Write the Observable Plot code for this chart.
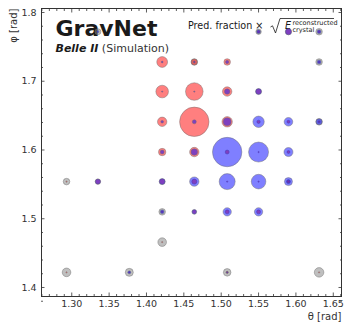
<!DOCTYPE html>
<html>
<head>
<meta charset="utf-8">
<script src="https://cdn.jsdelivr.net/npm/d3@7"></script>
<script src="https://cdn.jsdelivr.net/npm/@observablehq/plot@0.6"></script>
<style>
  html, body { margin: 0; padding: 0; background: #fff; }
  #chart svg { display: block; }
</style>
</head>
<body>
<div id="chart"></div>
<script>
// Crystal centres in the calorimeter (polar angle θ, azimuth φ, in rad)
const theta = [
  1.335, 1.550, 1.590, 1.631,
  1.421, 1.464, 1.508, 1.631,
  1.421, 1.464, 1.508, 1.550,
  1.421, 1.464, 1.508, 1.550, 1.590, 1.631,
  1.421, 1.464, 1.508, 1.550, 1.590,
  1.293, 1.335, 1.421, 1.464, 1.508, 1.550, 1.590,
  1.421, 1.464, 1.508, 1.550,
  1.421,
  1.293, 1.377, 1.508, 1.631
];
const phi = [
  1.772, 1.772, 1.772, 1.772,
  1.728, 1.728, 1.728, 1.728,
  1.685, 1.685, 1.685, 1.685,
  1.641, 1.641, 1.641, 1.641, 1.641, 1.641,
  1.597, 1.597, 1.597, 1.597, 1.597,
  1.554, 1.554, 1.554, 1.554, 1.554, 1.554, 1.554,
  1.510, 1.510, 1.510, 1.510,
  1.466,
  1.422, 1.422, 1.422, 1.422
];
// Predicted fraction × √E per crystal for each class
const cluster1 = [ // red shower
  0, 0.008, 0.040, 0.006,
  0.135, 0.042, 0.050, 0.004,
  0.184, 0.358, 0.102, 0.035,
  0.102, 1.000, 0.125, 0.013, 0.010, 0.005,
  0.063, 0.102, 0.0185, 0.002, 0.010,
  0.002, 0.030, 0.035, 0.029, 0.002, 0.002, 0.010,
  0.005, 0.020, 0.0185, 0.0185,
  0.002,
  0.002, 0.003, 0.006, 0.002
];
const cluster2 = [ // blue shower
  0.006, 0.018, 0.045, 0.020,
  0.004, 0.004, 0.013, 0.020,
  0.002, 0.002, 0.034, 0.042,
  0.008, 0.0185, 0.074, 0.150, 0.086, 0.042,
  0.0185, 0.050, 1.000, 0.463, 0.094,
  0, 0.034, 0.042, 0.102, 0.296, 0.247, 0.074,
  0.0185, 0.026, 0.080, 0.080,
  0,
  0, 0.0104, 0.004, 0
];
const background = [ // grey: beam background / noise
  0.042, 0.034, 0, 0.050,
  0, 0.050, 0, 0.050,
  0, 0, 0, 0,
  0, 0, 0, 0, 0, 0.050,
  0, 0, 0, 0, 0,
  0.050, 0, 0, 0, 0, 0, 0.0185,
  0.050, 0, 0, 0,
  0.086,
  0.086, 0.074, 0.066, 0.105
];

const xTicks = [1.30, 1.35, 1.40, 1.45, 1.50, 1.55, 1.60, 1.65];
const yTicks = [1.4, 1.5, 1.6, 1.7, 1.8];
const xMinor = d3.range(126, 167).map(v => v / 100);
const yMinor = d3.range(69, 91).map(v => v / 50);

const cells = theta.map((t, i) => ({
  theta: t, phi: phi[i],
  cluster1: cluster1[i], cluster2: cluster2[i], background: background[i]
}));

const font = "DejaVu Sans, sans-serif";
const ink = "#333";
const edge = {stroke: "#6e6e6e", strokeOpacity: 0.75, strokeWidth: 0.6};

// inward ticks on all four sides of the frame
function innerTicks(values, size) {
  const common = {tickSize: size, fill: "none", stroke: ink, strokeWidth: 0.8, label: null};
  return [
    Plot.axisX(values, {...common, anchor: "bottom", dy: -size}),
    Plot.axisX(values, {...common, anchor: "top", dy: size}),
  ];
}
function innerTicksY(values, size) {
  const common = {tickSize: size, fill: "none", stroke: ink, strokeWidth: 0.8, label: null};
  return [
    Plot.axisY(values, {...common, anchor: "left", dx: size}),
    Plot.axisY(values, {...common, anchor: "right", dx: -size}),
  ];
}
const notMajor = (vals, majors) => vals.filter(v => !majors.some(t => Math.abs(t - v) < 1e-9));

const chart = Plot.plot({
  width: 346,
  height: 323,
  marginLeft: 41,
  marginRight: 5,
  marginTop: 8,
  marginBottom: 27,
  style: {fontFamily: font, background: "#fff", color: ink},
  x: {domain: [1.2595, 1.661]},
  y: {domain: [1.3869, 1.8058]},
  r: {type: "sqrt", domain: [0, 1], range: [0, 14.7]},
  marks: [
    Plot.dot(cells.filter(d => d.background > 0), {x: "theta", y: "phi", r: "background", fill: "#808080", fillOpacity: 0.5, ...edge}),
    Plot.dot(cells.filter(d => d.cluster1 > 0), {x: "theta", y: "phi", r: "cluster1", fill: "#ff0000", fillOpacity: 0.5, ...edge}),
    Plot.dot(cells.filter(d => d.cluster2 > 0), {x: "theta", y: "phi", r: "cluster2", fill: "#0000ff", fillOpacity: 0.5, ...edge}),
    Plot.frame({stroke: ink, strokeWidth: 1}),
    ...innerTicks(xTicks, 3.5),
    ...innerTicks(notMajor(xMinor, xTicks), 2),
    ...innerTicksY(yTicks, 3.5),
    ...innerTicksY(notMajor(yMinor, yTicks), 2),
    Plot.axisX(xTicks, {anchor: "bottom", tickSize: 0, tickPadding: 4, tickFormat: d3.format(".2f"), fontSize: 9.5, fill: ink, label: null}),
    Plot.axisY(yTicks, {anchor: "left", tickSize: 0, tickPadding: 5, tickFormat: d3.format(".1f"), fontSize: 9.5, fill: ink, label: null}),
    Plot.text(["θ [rad]"], {frameAnchor: "bottom-right", text: d => d, textAnchor: "end", lineAnchor: "middle", dy: 20, fontSize: 10, fill: ink}),
    Plot.text(["φ [rad]"], {frameAnchor: "top-left", text: d => d, rotate: -90, textAnchor: "end", lineAnchor: "middle", dx: -28, fontSize: 10, fill: ink})
  ]
});

document.getElementById("chart").appendChild(chart);

// Title block and size legend, anchored to the frame corners
const svg = d3.select(chart);
const [frameLeft, frameRight] = chart.scale("x").range;
const frameTop = chart.scale("y").range[1];
const firstDots = chart.querySelector('g[aria-label="dot"]');
const notes = svg.insert("g", () => firstDots)
  .attr("font-family", font).attr("fill", "#1a1a1a").attr("text-anchor", "start");

notes.append("text")
  .attr("x", frameLeft + 14.5).attr("y", frameTop + 28)
  .attr("font-size", 22).attr("font-weight", "bold")
  .text("GravNet");

const sub = notes.append("text").attr("x", frameLeft + 14.5).attr("y", frameTop + 44).attr("font-size", 11);
sub.append("tspan").attr("font-weight", "bold").attr("font-style", "italic").text("Belle II");
sub.append("tspan").attr("fill", ink).text(" (Simulation)");

const legend = notes.append("g").attr("transform", `translate(${frameRight},${frameTop})`);
legend.append("text").attr("x", -153).attr("y", 21.3).attr("font-size", 9.6)
  .text("Pred. fraction ×");
legend.append("path")
  .attr("d", "M-70.5,19 L-68.5,17.8 L-65.5,25 L-61,10.5 L-7,10.5")
  .attr("fill", "none").attr("stroke", "#1a1a1a").attr("stroke-width", 0.8);
legend.append("text").attr("x", -56).attr("y", 21.3).attr("font-size", 9.6)
  .attr("font-style", "italic").text("E");
legend.append("text").attr("x", -48.5).attr("y", 17).attr("font-size", 6.5)
  .text("reconstructed");
legend.append("text").attr("x", -48.5).attr("y", 23.5).attr("font-size", 6.5)
  .text("crystal");
</script>
</body>
</html>
